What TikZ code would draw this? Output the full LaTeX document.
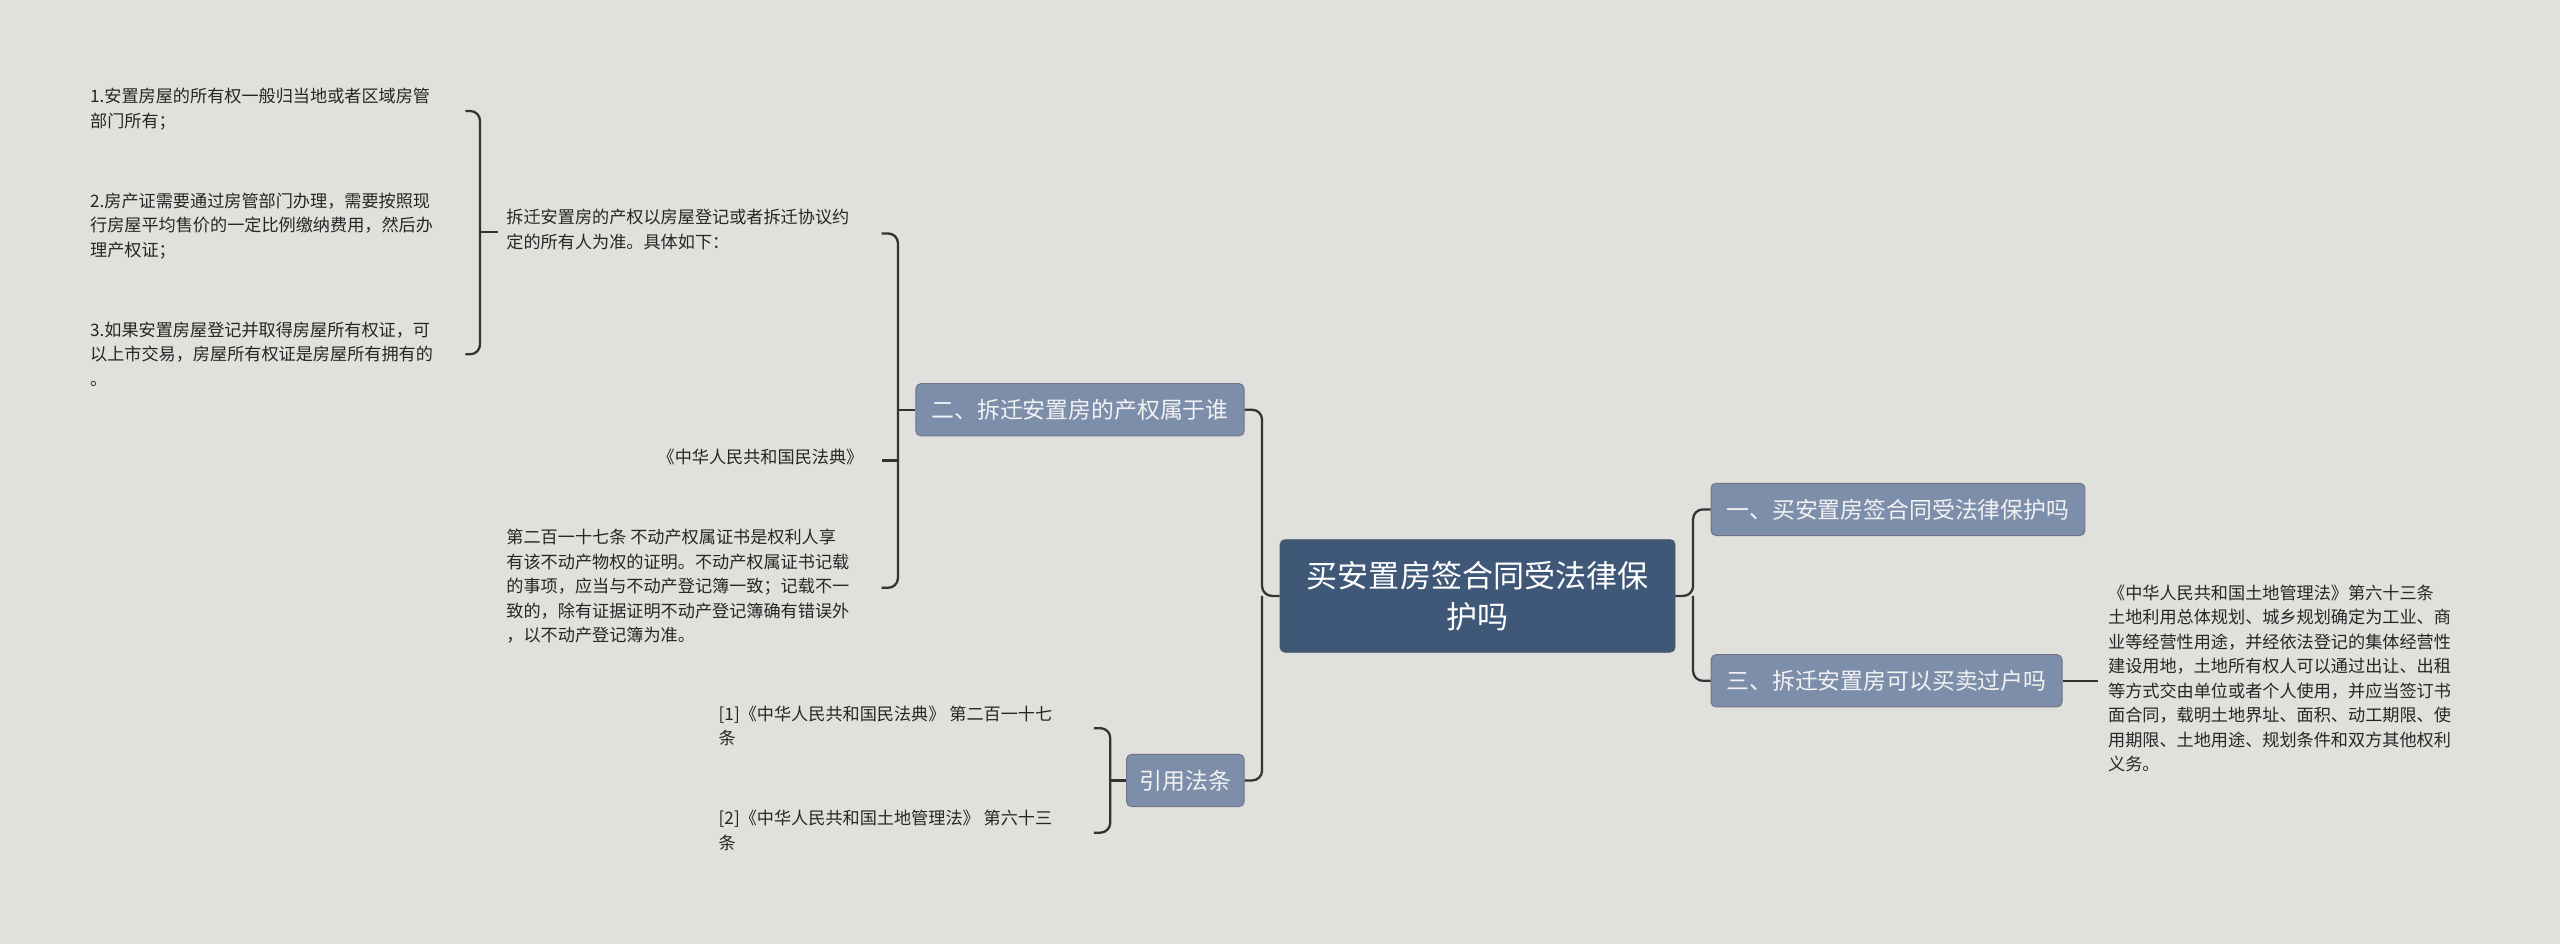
\documentclass[tikz,border=0pt]{standalone}
\usepackage{fontspec}
\setmainfont{Noto Sans CJK SC}
\begin{document}
\begin{tikzpicture}[x=1pt,y=-1pt,
  leaf/.style={anchor=north west,align=left,inner sep=0pt,font=\fontsize{10.5}{15}\selectfont,text=black!85},
  branch/.style={draw=black!15!blue!10!gray,line width=0.6pt,fill=bluegray,rounded corners=3pt,font=\fontsize{14}{18}\selectfont,text=white!95!black,inner sep=0pt,minimum height=32pt},
  con/.style={draw=black!80,line width=1.4pt,rounded corners=6pt}]
\definecolor{bg}{HTML}{E0E1DC}
\definecolor{bluegray}{HTML}{7D8EAB}
\definecolor{central}{HTML}{3F5878}
\useasboundingbox[fill=bg] (0,0) rectangle (1568,578);
% central
\node[draw=bluegray!60!black,fill=central,rounded corners=3pt,minimum width=242pt,minimum height=69pt,align=center,text=white,font=\fontsize{19}{25}\selectfont] (c) at (905,365) {买安置房签合同受法律保\\护吗};
% right branches
\node[branch,minimum width=229pt] (r1) at (1162.5,312) {一、买安置房签合同受法律保护吗};
\node[branch,minimum width=215pt] (r2) at (1155.5,417) {三、拆迁安置房可以买卖过户吗};
\node[leaf] (rl) at (1291,358) {《中华人民共和国土地管理法》第六十三条\\土地利用总体规划、城乡规划确定为工业、商\\业等经营性用途，并经依法登记的集体经营性\\建设用地，土地所有权人可以通过出让、出租\\等方式交由单位或者个人使用，并应当签订书\\面合同，载明土地界址、面积、动工期限、使\\用期限、土地用途、规划条件和双方其他权利\\义务。};
% left branches
\node[branch,minimum width=201pt] (l1) at (661.5,251) {二、拆迁安置房的产权属于谁};
\node[branch,minimum width=72pt] (l2) at (726,478) {引用法条};
% connectors center
\draw[con] (c.west) -- (773,365) |- (l1.east);
\draw[con] (773,365) |- (l2.east);
\draw[con] (c.east) -- (1037,365) |- (r1.west);
\draw[con] (1037,365) |- (r2.west);
\draw[con] (r2.east) -- (1285,417);
% level 2 texts
\node[leaf] (t1) at (310,128) {拆迁安置房的产权以房屋登记或者拆迁协议约\\定的所有人为准。具体如下：};
\node[leaf,anchor=north east] (t2) at (529,275) {《中华人民共和国民法典》};
\node[leaf] (t3) at (310,324) {第二百一十七条 不动产权属证书是权利人享\\有该不动产物权的证明。不动产权属证书记载\\的事项，应当与不动产登记簿一致；记载不一\\致的，除有证据证明不动产登记簿确有错误外\\，以不动产登记簿为准。};
\draw[con] (l1.west) -- (550,251);
\draw[con] (540,143) -| (550,360) -- (540,360);
\draw[con,rounded corners=0] (550,282) -- (540,282);
% items
\node[leaf] (i1) at (55,54) {1.安置房屋的所有权一般归当地或者区域房管\\部门所有；};
\node[leaf] (i2) at (55,118) {2.房产证需要通过房管部门办理，需要按照现\\行房屋平均售价的一定比例缴纳费用，然后办\\理产权证；};
\node[leaf] (i3) at (55,197) {3.如果安置房屋登记并取得房屋所有权证，可\\以上市交易，房屋所有权证是房屋所有拥有的\\。};
\draw[con] (285,68) -| (294,217) -- (285,217);
\draw[con,rounded corners=0] (294,142) -- (305,142);
% refs
\node[leaf] (f1) at (440,432) {[1]《中华人民共和国民法典》 第二百一十七\\条};
\node[leaf] (f2) at (440,496) {[2]《中华人民共和国土地管理法》 第六十三\\条};
\draw[con] (670,446) -| (680,510) -- (670,510);
\draw[con,rounded corners=0] (680,478) -- (l2.west);
\end{tikzpicture}
\end{document}
